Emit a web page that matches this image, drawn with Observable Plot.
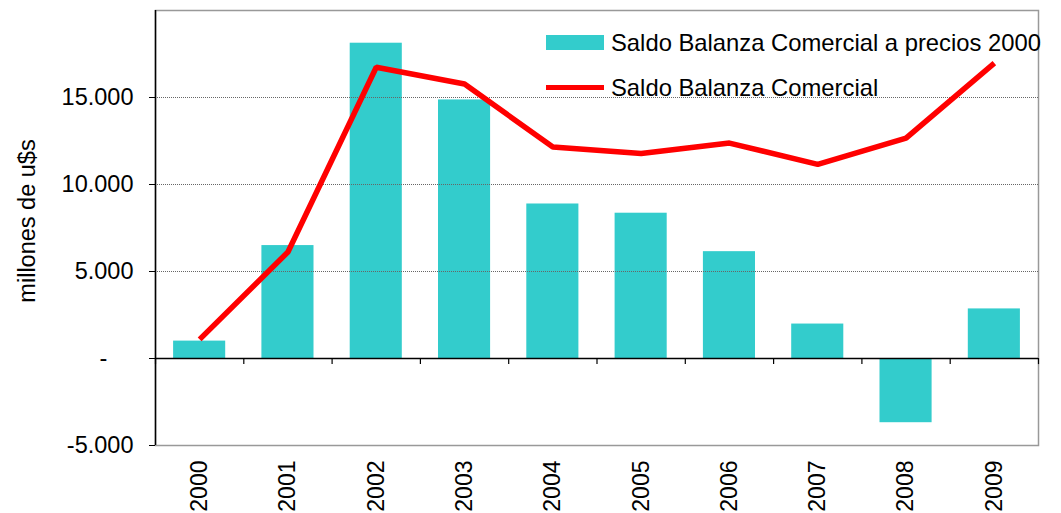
<!DOCTYPE html>
<html>
<head>
<meta charset="utf-8">
<script src="https://cdn.jsdelivr.net/npm/d3@7"></script>
<script src="https://cdn.jsdelivr.net/npm/@observablehq/plot@0.6"></script>
<style>
  html, body { margin: 0; padding: 0; background: #fff; }
  #chart { position: relative; width: 1061px; height: 513px; font-family: "Liberation Sans", Arial, sans-serif; }
  #chart svg { display: block; }
  .legend { position: absolute; left: 546px; top: 20px; font-size: 23.8px; color: #000; }
  .legend .row { display: flex; align-items: center; height: 45px; }
  .legend .sw { width: 58px; margin-right: 7px; }
</style>
</head>
<body>
<div id="chart"></div>
<script>
const years = [2000, 2001, 2002, 2003, 2004, 2005, 2006, 2007, 2008, 2009];
const saldoReal = [1000, 6490, 18120, 14860, 8880, 8350, 6140, 1980, -3690, 2850];
const saldoNominal = [1100, 6120, 16740, 15780, 12150, 11780, 12380, 11160, 12660, 16980];
const yTicks = [-5000, 0, 5000, 10000, 15000];
const gridTicks = [5000, 10000, 15000];
const seriesNames = ["Saldo Balanza Comercial a precios 2000", "Saldo Balanza Comercial"];
const yLabel = "millones de u$s";

const data = years.map((y, i) => ({year: y, real: saldoReal[i], nominal: saldoNominal[i]}));
const bounds = [...years.map(y => y - 0.5), years[years.length - 1] + 0.5];
const fmt = d => d === 0 ? "-\u00A0\u00A0\u00A0\u00A0" : (d < 0 ? "-" : "") + Math.abs(d).toLocaleString("en-US").replace(/,/g, ".");

const cyan = "#33CCCC";
const red = "#FF0000";

const plot = Plot.plot({
  width: 1061,
  height: 513,
  marginLeft: 155,
  marginRight: 23,
  marginTop: 10,
  marginBottom: 68,
  style: {fontFamily: "Liberation Sans, Arial, sans-serif", fontSize: "23.5px", color: "#000", background: "#fff"},
  x: {domain: [bounds[0], bounds[bounds.length - 1]]},
  y: {domain: [-5000, 20000]},
  marks: [
    Plot.frame({stroke: "#999", strokeWidth: 1.5}),
    Plot.rectY(data, {x1: d => d.year - 0.295, x2: d => d.year + 0.295, y: "real", fill: cyan}),
    Plot.ruleY(gridTicks, {stroke: "#666", strokeWidth: 1, strokeDasharray: "1 1"}),
    Plot.ruleY([0], {stroke: "#000", strokeWidth: 1.5}),
    Plot.ruleX(bounds, {y1: 0, y2: -350, stroke: "#000", strokeWidth: 1.2}),
    Plot.ruleX([bounds[0]], {stroke: "#000", strokeWidth: 1.5}),
    Plot.axisY({ticks: yTicks, tickFormat: fmt, tickSize: 6, tickPadding: 16, fontSize: 23.5, label: null, stroke: "#000"}),
    Plot.axisX({ticks: years, tickFormat: d => String(d), tickRotate: -90, tickSize: 0, tickPadding: 15, fontSize: 23, label: null}),
    Plot.line(data, {x: "year", y: "nominal", stroke: red, strokeWidth: 5.5, strokeLinecap: "butt", strokeLinejoin: "miter"}),
    Plot.text([yLabel], {frameAnchor: "left", textAnchor: "middle", rotate: -90, dx: -128, dy: -7, fontSize: 23.5, fill: "#000"})
  ]
});

const chart = document.getElementById("chart");
chart.appendChild(plot);

const legend = document.createElement("div");
legend.className = "legend";
legend.innerHTML =
  `<div class="row"><span class="sw" style="height:15px;background:${cyan}"></span><span>${seriesNames[0]}</span></div>` +
  `<div class="row"><span class="sw" style="height:5px;background:${red}"></span><span>${seriesNames[1]}</span></div>`;
chart.appendChild(legend);
</script>
</body>
</html>
